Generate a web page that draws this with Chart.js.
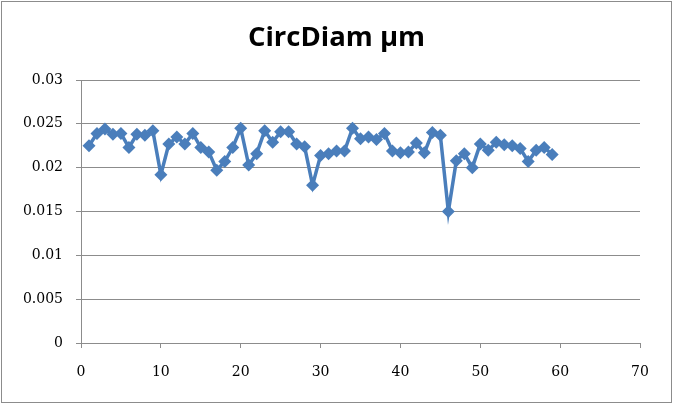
<!DOCTYPE html>
<html>
<head>
<meta charset="utf-8">
<script src="https://cdn.jsdelivr.net/npm/chart.js@4/dist/chart.umd.min.js"></script>
<style>
  html, body { margin: 0; padding: 0; background: #fff; }
  #wrap { width: 673px; height: 404px; }
</style>
</head>
<body>
<div id="wrap"><canvas id="c" width="673" height="404"></canvas></div>
<script>
// 数据 - 从图上读出来的
const sampleIndex = [];
for (let i = 1; i <= 59; i++) sampleIndex.push(i);

const circDiam = [
    0.0225, 0.0239, 0.0244, 0.0238, 0.0239, 0.0223, 0.0238, 0.0237, 0.0242, 0.0192,
    0.0227, 0.0235, 0.0227, 0.0239, 0.0223, 0.0218, 0.0197, 0.0207, 0.0223, 0.0245,
    0.0203, 0.0216, 0.0242, 0.0229, 0.0241, 0.0241, 0.0227, 0.0224, 0.0180, 0.0214,
    0.0216, 0.0219, 0.0219, 0.0245, 0.0233, 0.0235, 0.0232, 0.0239, 0.0219, 0.0217,
    0.0218, 0.0228, 0.0217, 0.0240, 0.0237, 0.0150, 0.0208, 0.0216, 0.0200, 0.0227,
    0.0220, 0.0229, 0.0226, 0.0225, 0.0222, 0.0207, 0.0220, 0.0223, 0.0215
];

const xTicks = [0, 10, 20, 30, 40, 50, 60, 70];
const yTicks = [0, 0.005, 0.01, 0.015, 0.02, 0.025, 0.03];

const seriesColor = '#4a7ebb';
const gridColor = '#8c8c8c';
const tickFont = { family: 'DejaVu Serif', size: 14 };

// 外框
const borderPlugin = {
    id: 'outerBorder',
    afterDraw(chart) {
        const ctx = chart.ctx;
        ctx.save();
        ctx.strokeStyle = '#8c8c8c';
        ctx.lineWidth = 1;
        ctx.strokeRect(1.5, 1.5, chart.width - 3, chart.height - 3);
        ctx.restore();
    }
};

const points = sampleIndex.map((x, i) => ({ x: x, y: circDiam[i] }));

new Chart(document.getElementById('c').getContext('2d'), {
    type: 'line',
    data: {
        datasets: [{
            label: 'CircDiam µm',
            data: points,
            borderColor: seriesColor,
            backgroundColor: seriesColor,
            borderWidth: 3.5,
            pointStyle: 'rectRot',
            pointRadius: 6.5,
            pointBorderWidth: 0,
            pointBackgroundColor: seriesColor,
            tension: 0
        }]
    },
    options: {
        responsive: false,
        animation: false,
        layout: { padding: 0 },
        plugins: {
            legend: { display: false },
            tooltip: { enabled: false },
            title: {
                display: true,
                text: 'CircDiam µm',
                color: '#000',
                font: { family: 'Open Sans', size: 27.5, weight: 'bold' },
                padding: { top: 22, bottom: 25 }
            }
        },
        scales: {
            x: {
                type: 'linear',
                min: 0,
                max: 70,
                afterBuildTicks(scale) {
                    scale.ticks = xTicks.map(v => ({ value: v }));
                },
                afterFit(scale) { scale.height = 61; },
                grid: {
                    drawOnChartArea: false,
                    drawTicks: true,
                    tickLength: 5,
                    color: gridColor
                },
                border: { color: gridColor, width: 1 },
                ticks: {
                    color: '#000',
                    padding: 16,
                    maxRotation: 0,
                    font: tickFont
                }
            },
            y: {
                min: 0,
                max: 0.03,
                afterBuildTicks(scale) {
                    scale.ticks = yTicks.map(v => ({ value: v }));
                },
                afterFit(scale) { scale.width = 81; },
                grid: {
                    color: gridColor,
                    tickLength: 5
                },
                border: { color: gridColor, width: 1 },
                ticks: {
                    color: '#000',
                    padding: 13,
                    font: tickFont,
                    callback: v => String(v)
                }
            },
            // 右边留白用的空轴，标题才能居中
            ySpacer: {
                position: 'right',
                min: 0,
                max: 1,
                afterFit(scale) { scale.width = 33; },
                grid: { display: false },
                border: { display: false },
                ticks: { display: false }
            }
        }
    },
    plugins: [borderPlugin]
});
</script>
</body>
</html>
